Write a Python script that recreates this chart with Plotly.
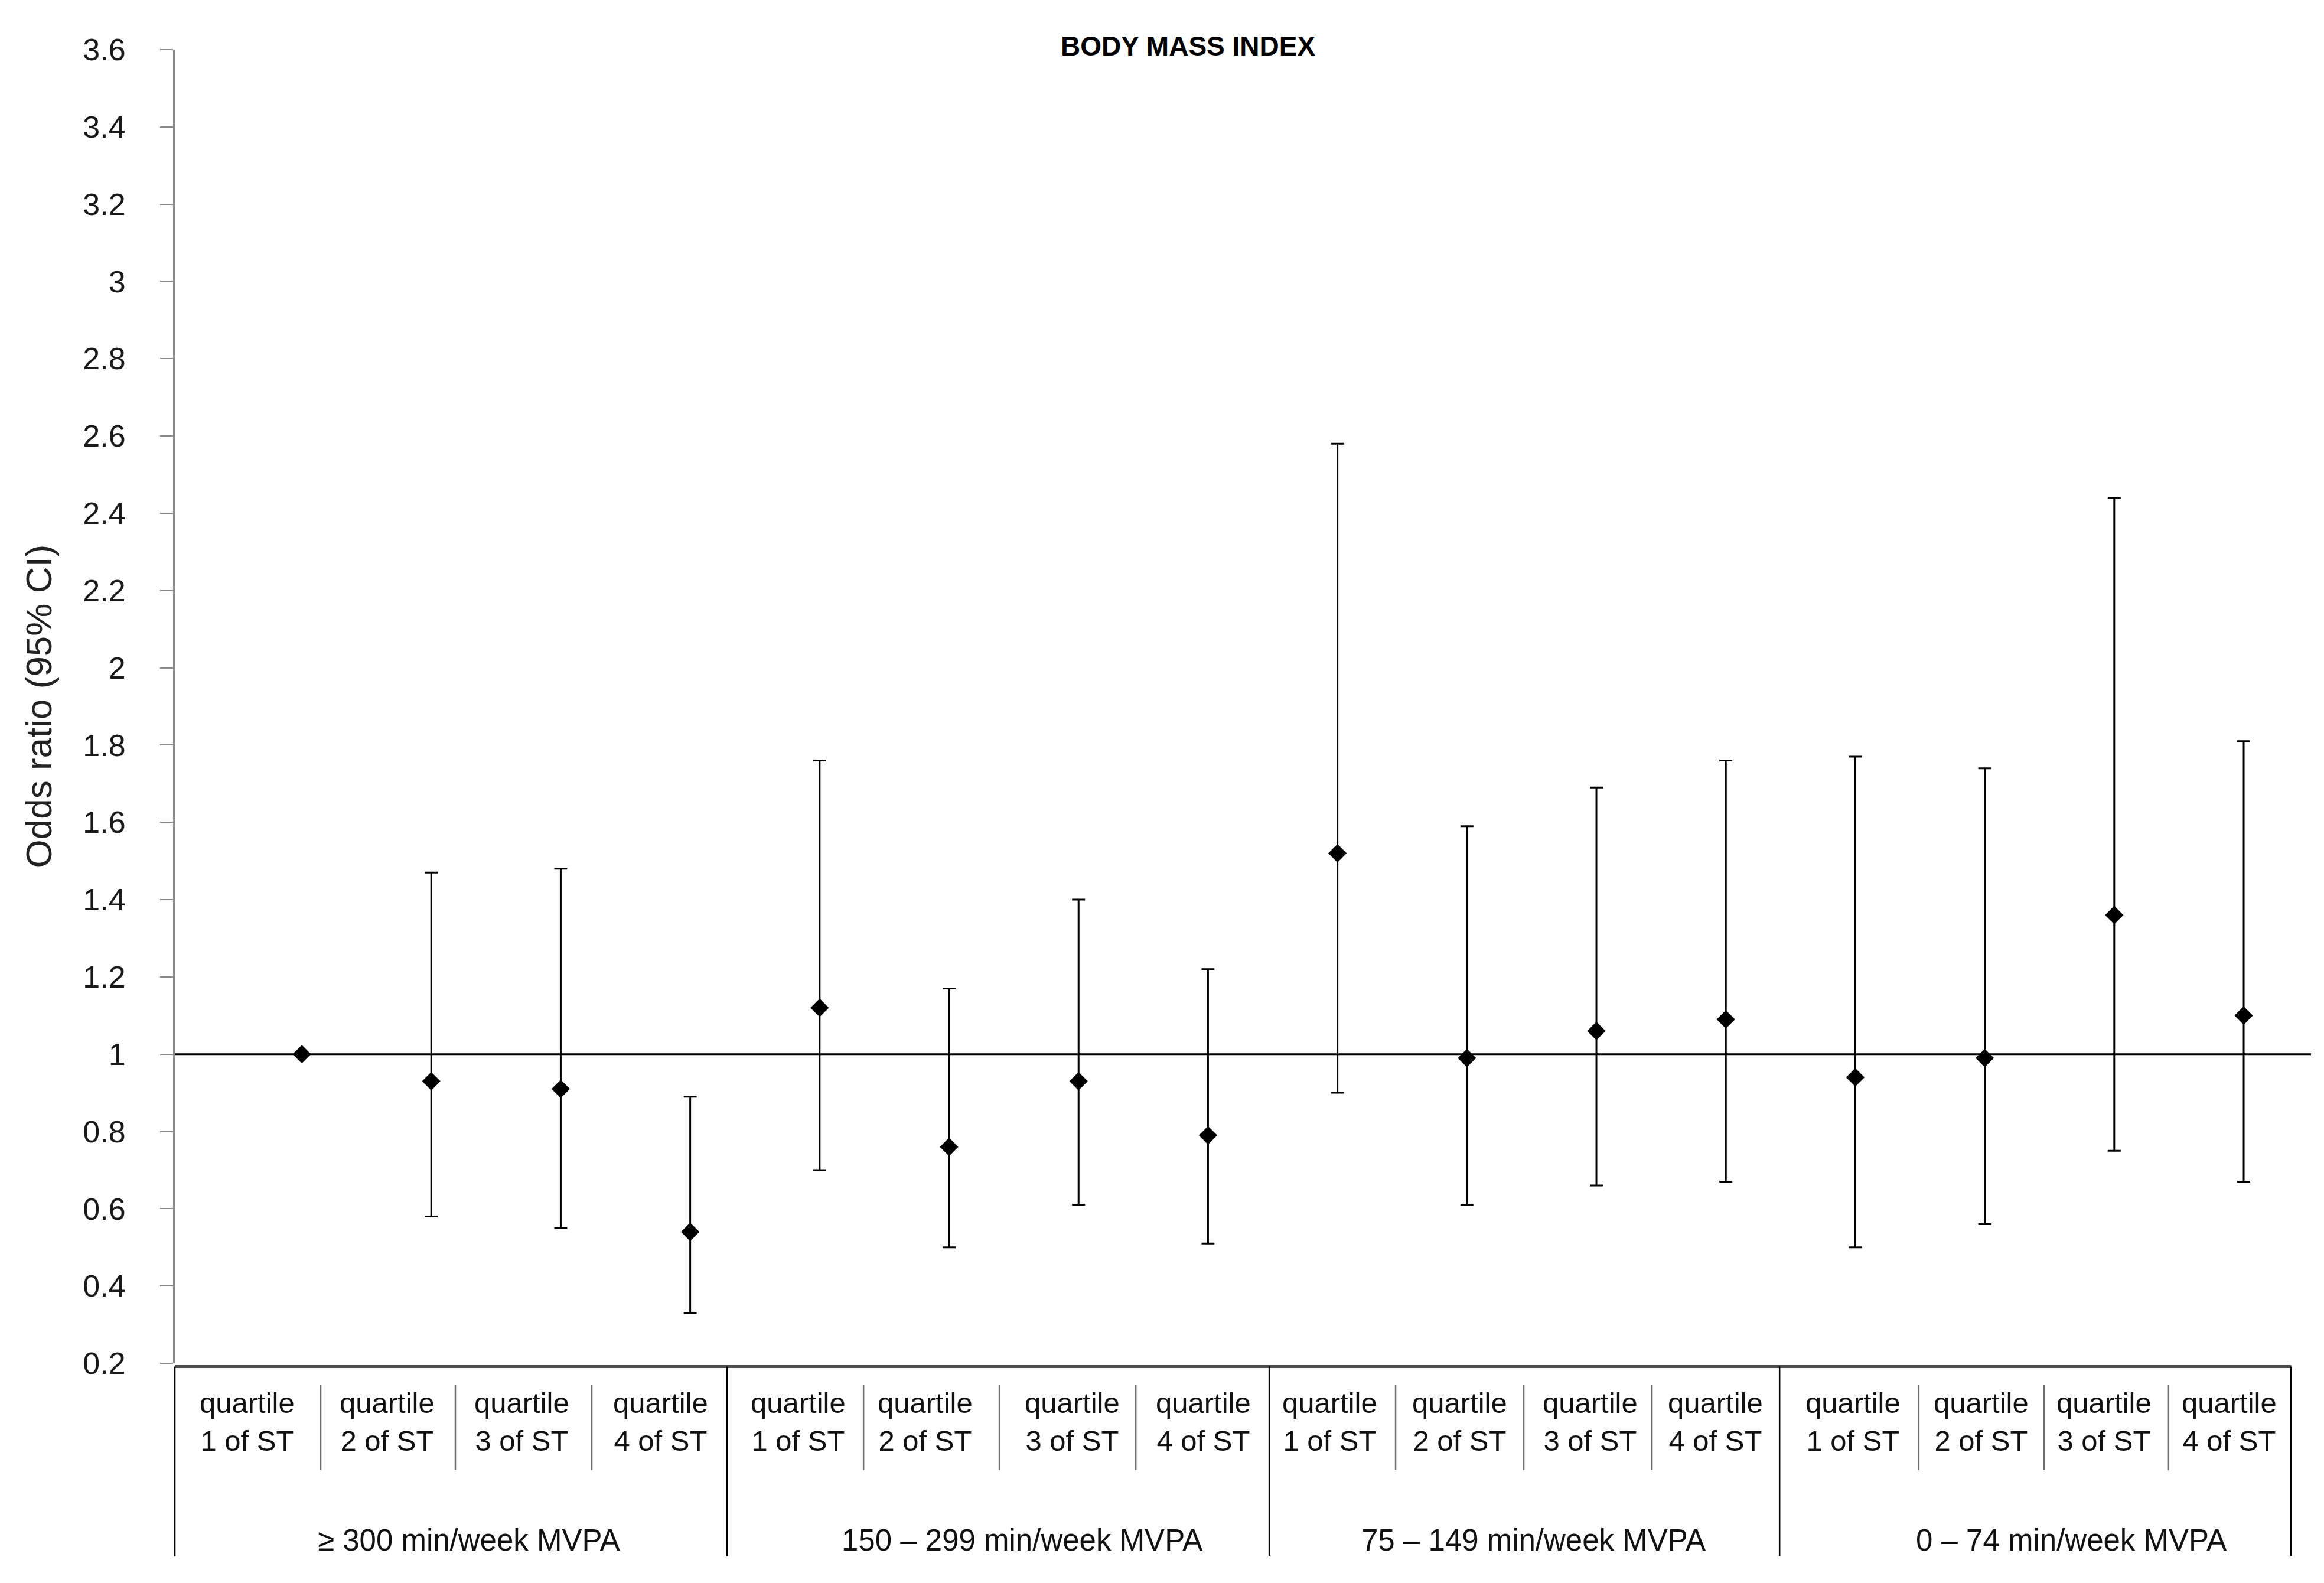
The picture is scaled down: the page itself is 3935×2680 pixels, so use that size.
import plotly.graph_objects as go

# ---------------- data ----------------
quartile_labels = ["quartile<br>1 of ST", "quartile<br>2 of ST", "quartile<br>3 of ST", "quartile<br>4 of ST"] * 4
group_labels = ["≥ 300 min/week MVPA", "150 – 299 min/week MVPA",
                "75 – 149 min/week MVPA", "0 – 74 min/week MVPA"]

odds_ratio = [1.00, 0.93, 0.91, 0.54, 1.12, 0.76, 0.93, 0.79,
              1.52, 0.99, 1.06, 1.09, 0.94, 0.99, 1.36, 1.10]
ci_upper = [1.00, 1.47, 1.48, 0.89, 1.76, 1.17, 1.40, 1.22,
            2.58, 1.59, 1.69, 1.76, 1.77, 1.74, 2.44, 1.81]
ci_lower = [1.00, 0.58, 0.55, 0.33, 0.70, 0.50, 0.61, 0.51,
            0.90, 0.61, 0.66, 0.67, 0.50, 0.56, 0.75, 0.67]

y_tick_values = [0.2, 0.4, 0.6, 0.8, 1.0, 1.2, 1.4, 1.6, 1.8,
                 2.0, 2.2, 2.4, 2.6, 2.8, 3.0, 3.2, 3.4, 3.6]
y_tick_labels = ["0.2", "0.4", "0.6", "0.8", "1", "1.2", "1.4", "1.6", "1.8",
                 "2", "2.2", "2.4", "2.6", "2.8", "3", "3.2", "3.4", "3.6"]

# ---------------- layout helpers (positions in x-axis units) ----------------
X0, X1 = 0.019, 16.52
label_x = [0.58, 1.657, 2.697, 3.773, 4.832, 5.813, 6.953, 7.966,
           8.942, 9.946, 10.95, 11.917, 12.98, 13.974, 14.923, 15.886]
quartile_div_x = [1.146, 2.186, 3.240, 5.339, 6.388, 7.442,
                  9.449, 10.439, 11.429, 13.49, 14.458, 15.42]
group_div_x = [0.019, 4.285, 8.473, 12.415, 16.366]
group_label_x = [2.29, 6.561, 10.512, 14.668]


def to_paper(x):
    return (x - X0) / (X1 - X0)


x_pos = list(range(1, len(odds_ratio) + 1))
err_plus = [u - o for u, o in zip(ci_upper, odds_ratio)]
err_minus = [o - l for o, l in zip(odds_ratio, ci_lower)]

FONT = "Liberation Sans, Arial, sans-serif"

fig = go.Figure()
fig.add_trace(go.Scatter(
    x=x_pos, y=odds_ratio, mode="markers",
    marker=dict(symbol="diamond", size=24, color="black"),
    error_y=dict(type="data", symmetric=False, array=err_plus, arrayminus=err_minus,
                 color="black", thickness=3, width=11),
    showlegend=False,
))

shapes = []
# reference line at OR = 1
shapes.append(dict(type="line", xref="paper", yref="y", x0=0, x1=1, y0=1, y1=1,
                   line=dict(color="black", width=3), layer="below"))
# bottom border of category table
shapes.append(dict(type="line", xref="paper", yref="paper",
                   x0=to_paper(group_div_x[0]), x1=to_paper(group_div_x[-1]),
                   y0=-0.0025, y1=-0.0025, line=dict(color="#4a4a4a", width=5)))
# group dividers
for gx in group_div_x:
    shapes.append(dict(type="line", xref="paper", yref="paper",
                       x0=to_paper(gx), x1=to_paper(gx), y0=-0.0025, y1=-0.147,
                       line=dict(color="black", width=2.5)))
# quartile dividers
for qx in quartile_div_x:
    shapes.append(dict(type="line", xref="paper", yref="paper",
                       x0=to_paper(qx), x1=to_paper(qx), y0=-0.0162, y1=-0.0814,
                       line=dict(color="#6e6e6e", width=2.5)))

annotations = []
for lx, lab in zip(label_x, quartile_labels):
    annotations.append(dict(x=lx, xref="x", y=-0.0445, yref="paper", text=lab,
                            showarrow=False, xanchor="center", yanchor="middle",
                            font=dict(family=FONT, size=49, color="#111111")))
for gx, lab in zip(group_label_x, group_labels):
    annotations.append(dict(x=gx, xref="x", y=-0.1345, yref="paper", text=lab,
                            showarrow=False, xanchor="center", yanchor="middle",
                            font=dict(family=FONT, size=51, color="#111111")))
# title
annotations.append(dict(x=0.4744, xref="paper", y=1.0027, yref="paper",
                        text="<b>BODY MASS INDEX</b>", showarrow=False,
                        xanchor="center", yanchor="middle",
                        font=dict(family=FONT, size=46, color="black")))
# y-axis title
annotations.append(dict(x=-0.064, xref="paper", y=0.5, yref="paper",
                        text="Odds ratio (95% CI)", textangle=-90, showarrow=False,
                        xanchor="center", yanchor="middle",
                        font=dict(family=FONT, size=62, color="#222222")))

fig.update_layout(
    width=3927, height=2672,
    margin=dict(l=288, r=22, t=76, b=372, autoexpand=False),
    paper_bgcolor="white", plot_bgcolor="white",
    shapes=shapes, annotations=annotations,
    xaxis=dict(range=[X0, X1], showticklabels=False, showline=False,
               showgrid=False, zeroline=False, ticks=""),
    yaxis=dict(range=[0.2, 3.6], tickmode="array", tickvals=y_tick_values,
               ticktext=y_tick_labels, showline=True, linecolor="#8a8a8a",
               linewidth=3, ticks="outside", ticklen=22, tickwidth=2,
               tickcolor="#8a8a8a", showgrid=False, zeroline=False,
               ticklabelstandoff=48,
               tickfont=dict(family=FONT, size=52, color="#1a1a1a")),
)

fig.write_html("out.html")
